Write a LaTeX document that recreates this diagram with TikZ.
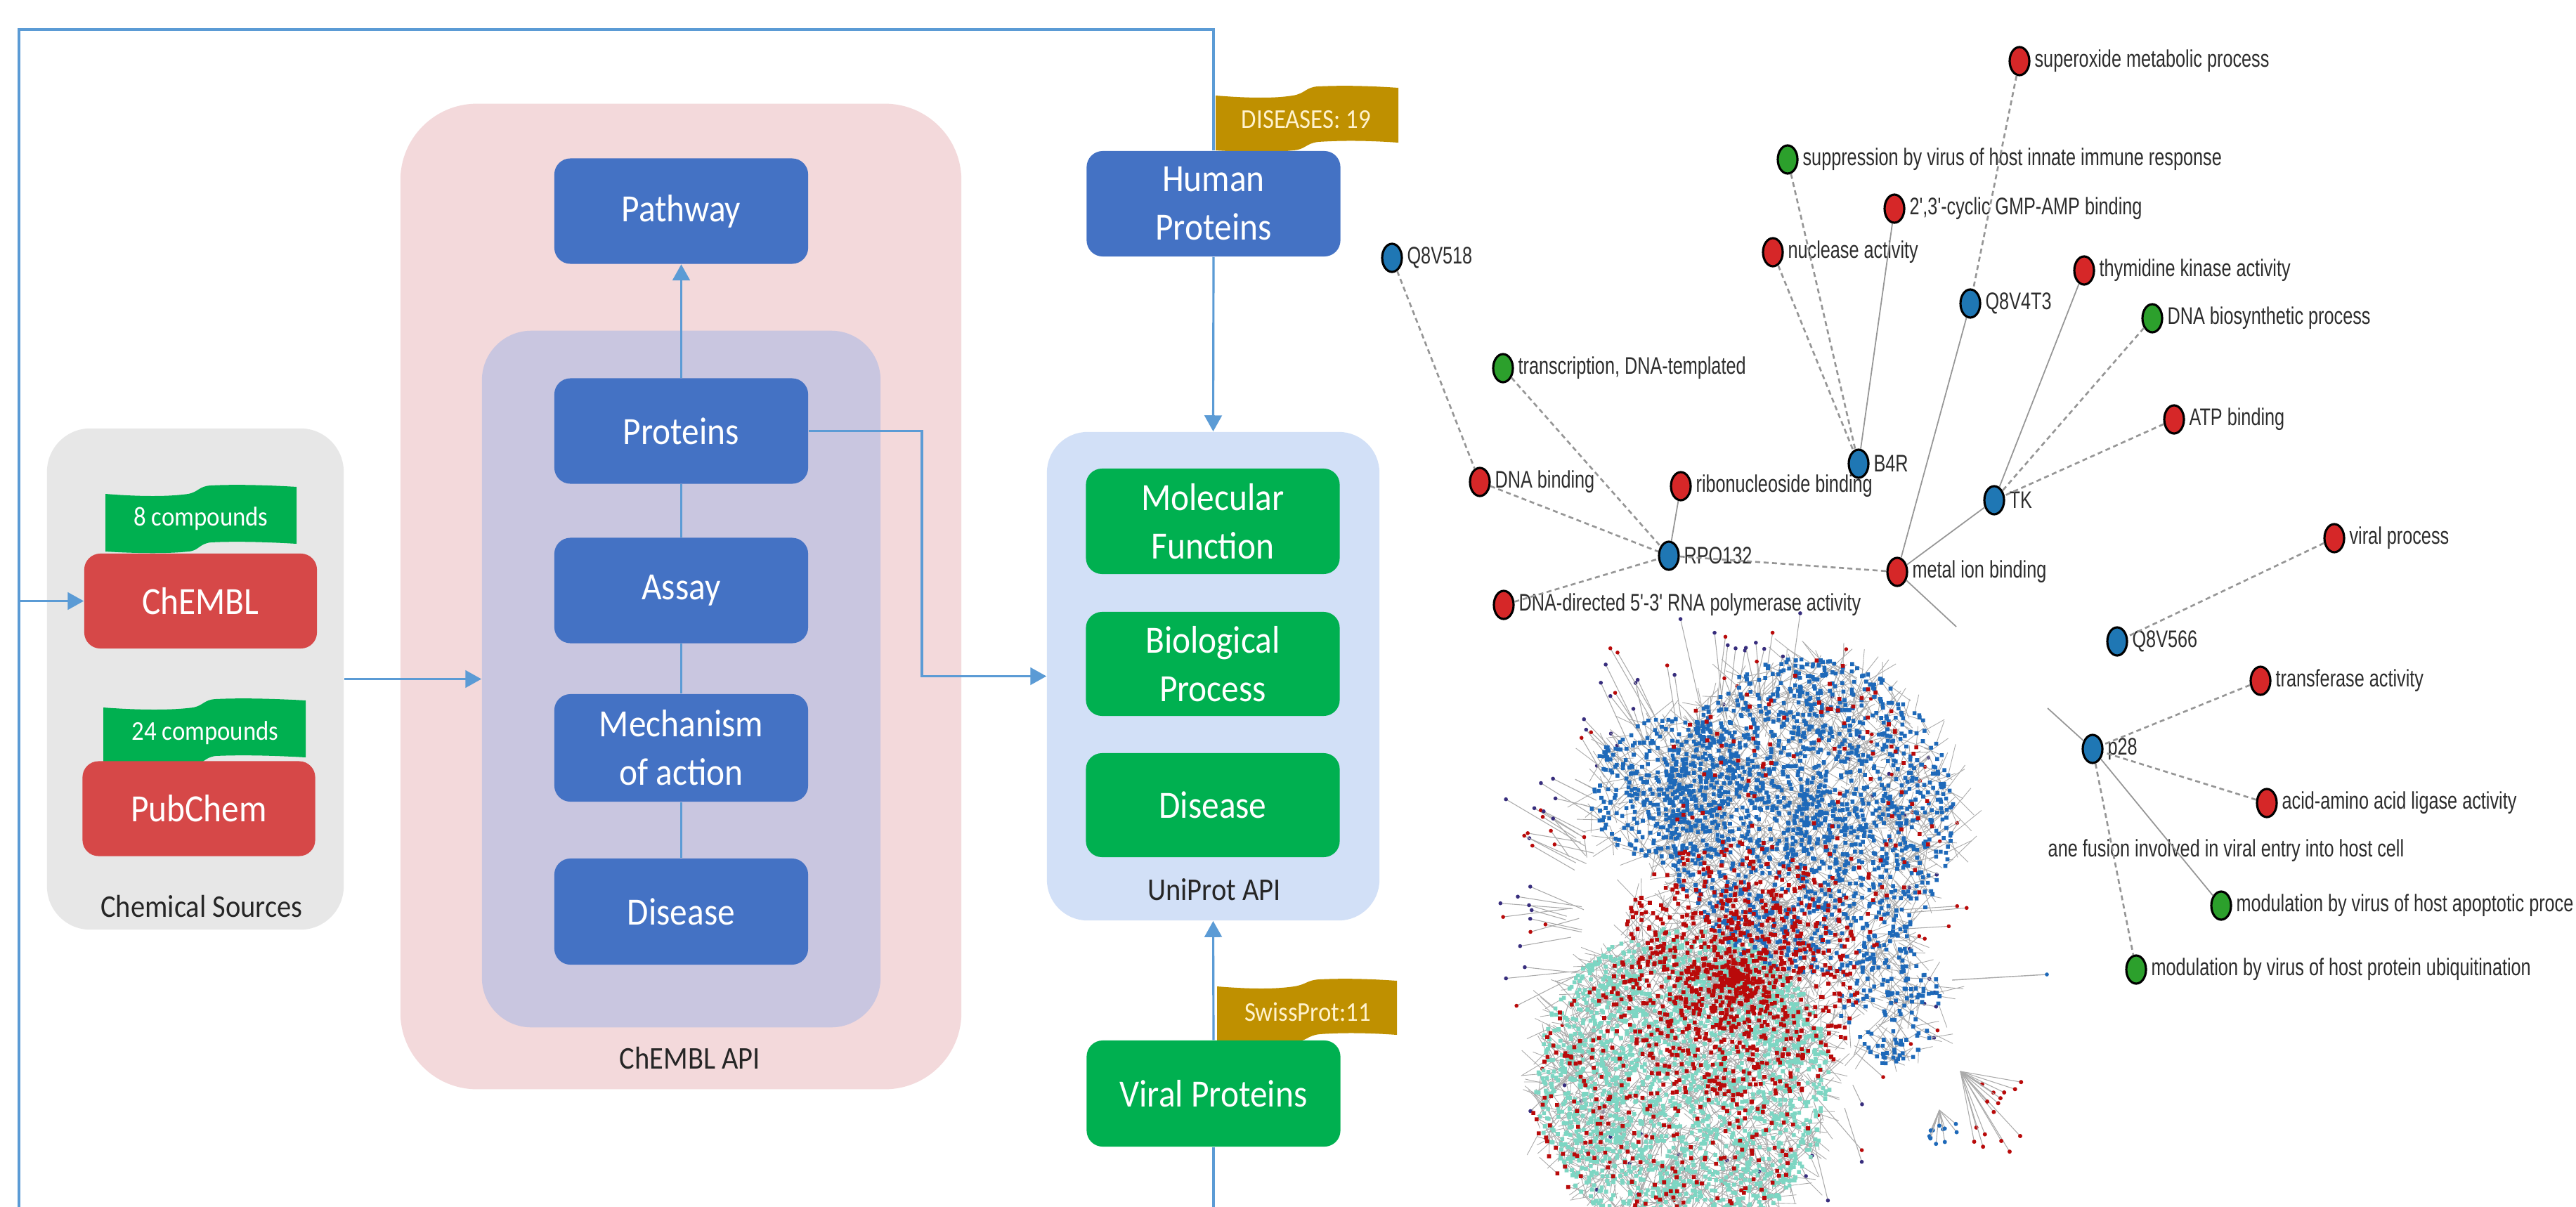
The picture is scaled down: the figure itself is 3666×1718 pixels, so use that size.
\documentclass[tikz,border=0pt]{standalone}
\usepackage{fontspec}
\setmainfont{Carlito}
\newfontfamily\cfont[FakeStretch=0.9]{Carlito}
\newfontfamily\gfont[FakeStretch=0.74]{Liberation Sans}
\usetikzlibrary{arrows.meta,shapes.geometric}
\definecolor{conn}{RGB}{91,155,213}
\definecolor{bbox}{RGB}{68,114,196}
\definecolor{gbox}{RGB}{0,176,80}
\definecolor{rbox}{RGB}{214,72,72}
\definecolor{gold}{RGB}{191,144,0}
\definecolor{goldtxt}{RGB}{255,242,204}
\definecolor{greybg}{RGB}{231,231,231}
\definecolor{pinkbg}{RGB}{243,217,219}
\definecolor{purpbg}{RGB}{201,198,224}
\definecolor{unibg}{RGB}{210,224,247}
\definecolor{gblue}{RGB}{31,119,180}
\definecolor{gred}{RGB}{214,39,40}
\definecolor{ggreen}{RGB}{44,160,44}
\definecolor{gedge}{RGB}{150,150,150}
\definecolor{gtext}{RGB}{45,45,45}
\definecolor{hteal}{RGB}{125,214,195}
\definecolor{hred}{RGB}{185,10,10}
\definecolor{hblue}{RGB}{30,105,185}
\definecolor{hnavy}{RGB}{55,45,125}
\definecolor{hedgec}{RGB}{170,170,170}

\def\hbpow{0.5}
% one random point of a cluster: cx, cy, rx, ry, edge length
\newcommand\hbcomp[5]{%
  \pgfmathsetmacro\hbr{rnd^\hbpow}%
  \pgfmathsetmacro\hba{360*rnd}%
  \pgfmathsetmacro\hbx{#1+#3*\hbr*cos(\hba)}%
  \pgfmathsetmacro\hby{#2+#4*\hbr*sin(\hba)}%
  \pgfmathsetmacro\hbu{\hbx+#5*rand}%
  \pgfmathsetmacro\hbv{\hby+#5*rand}%
  \global\let\hbx\hbx\global\let\hby\hby\global\let\hbu\hbu\global\let\hbv\hbv}
% mode (0 edges / 1 dots), chunks of 150 points, cx, cy, rx, ry, colour, edge length, seed
\newcommand\hbcluster[9]{%
  \pgfmathsetseed{#9}%
  \foreach \hbk in {1,...,#2}{%
    \ifnum#1=0
      \draw[hbedge] \foreach \hbi in {1,...,150}{\pgfextra{\hbcomp{#3}{#4}{#5}{#6}{#8}} (\hbx,\hby) -- (\hbu,\hbv)};%
    \else
      \fill[#7] \foreach \hbi in {1,...,150}{\pgfextra{\hbcomp{#3}{#4}{#5}{#6}{#8}} (\hbx-2.8,\hby-2.8) rectangle (\hbx+2.8,\hby+2.8)};%
    \fi
  }%
}
% all clusters, in one mode
\newcommand\hballclusters[1]{%
  \def\hbpow{0.5}%
  \hbcluster{#1}{14}{2395}{1540}{210}{220}{hteal}{35}{101}%
  \def\hbpow{0.6}%
  \hbcluster{#1}{10}{2575}{1160}{205}{225}{hblue}{45}{102}%
  \hbcluster{#1}{3}{2385}{1125}{125}{105}{hblue}{40}{103}%
  \hbcluster{#1}{1}{2690}{1420}{75}{95}{hblue}{40}{104}%
  \def\hbpow{0.9}%
  \hbcluster{#1}{6}{2470}{1390}{175}{195}{hred}{40}{105}%
  \def\hbpow{0.5}%
  \hbcluster{#1}{2}{2380}{1560}{205}{195}{hred}{35}{106}%
  \hbcluster{#1}{1}{2560}{1160}{200}{225}{hred}{35}{107}%
}

\begin{document}
\begin{tikzpicture}[x=0.01cm,y=-0.01cm,
  cline/.style={draw=conn, line width=0.9pt},
  carrow/.style={cline, -{Triangle[length=6.5pt,width=7pt]}},
  grp/.style={inner sep=0pt, draw=none},
  boxtxt/.style={font=\cfont\fontsize{15.6}{19.6}\selectfont, text=white, align=center,
     inner sep=0pt, rounded corners=6.5pt, minimum width=3.61cm, minimum height=1.5cm},
  bluebox/.style={boxtxt, fill=bbox},
  greenbox/.style={boxtxt, fill=gbox},
  redbox/.style={boxtxt, fill=rbox, minimum width=3.31cm, minimum height=1.35cm},
  caption/.style={font=\cfont\fontsize{12.8}{15}\selectfont, text=black!85, inner sep=0pt},
  flagtxt/.style={font=\cfont\fontsize{11}{13}\selectfont, text=white, inner sep=0pt},
  goldflagtxt/.style={font=\cfont\fontsize{11}{13}\selectfont, text=goldtxt, inner sep=0pt},
  gnode/.style={ellipse, draw=black, line width=0.9pt, minimum width=0.28cm, minimum height=0.4cm, inner sep=0pt},
  glabel/.style={font=\gfont\fontsize{9.7}{11}\selectfont, text=gtext, inner sep=0pt},
  gdash/.style={draw=gedge, line width=0.75pt, dash pattern=on 2pt off 1.4pt},
  gsolid/.style={draw=gedge, line width=0.5pt},
  hbedge/.style={draw=hedgec, line width=0.25pt}]
\useasboundingbox (0,0) rectangle (3666,1718);
\fill[white] (0,0) rectangle (3666,1718);

% ---------- group backgrounds ----------
\node[grp, fill=greybg, rounded corners=17.5pt, minimum width=4.22cm, minimum height=7.13cm] (chemsrc) at (278,966.5) {};
\node[grp, fill=pinkbg, rounded corners=31pt, minimum width=7.98cm, minimum height=14.02cm] (chemblapi) at (969,849) {};
\node[grp, fill=purpbg, rounded corners=20pt, minimum width=5.67cm, minimum height=9.91cm] (inner) at (969.5,966.5) {};
\node[grp, fill=unibg, rounded corners=16.5pt, minimum width=4.73cm, minimum height=6.95cm] (uniprot) at (1726.5,962.5) {};

% ---------- flags ----------
\fill[gbox] (150,703) .. controls (200,707) and (240,707) .. (268,703) .. controls (283,700) and (283,692) .. (300,691) .. controls (340,689) and (390,691) .. (422,693)
   -- (422,774) .. controls (390,772) and (340,770) .. (300,772) .. controls (283,774) and (283,784) .. (268,785) .. controls (240,788) and (200,788) .. (150,785) -- cycle;
\node[flagtxt] (f8) at (286,738) {8 compounds};
\fill[gbox] (147,1007) .. controls (200,1011) and (245,1011) .. (275,1007) .. controls (290,1004) and (290,996) .. (307,995) .. controls (350,993) and (400,995) .. (435,997)
   -- (435,1078) .. controls (400,1076) and (350,1074) .. (307,1076) .. controls (290,1078) and (290,1088) .. (275,1089) .. controls (245,1092) and (200,1092) .. (147,1089) -- cycle;
\node[flagtxt] (f24) at (292,1043) {24 compounds};
\fill[gold] (1730,136) .. controls (1780,140) and (1815,140) .. (1840,136) .. controls (1858,133) and (1858,124) .. (1876,123) .. controls (1920,121) and (1960,123) .. (1990,125)
   -- (1990,203) .. controls (1960,201) and (1920,199) .. (1876,202) .. controls (1858,204) and (1858,213) .. (1840,214) .. controls (1815,217) and (1780,217) .. (1730,214) -- cycle;
\node[goldflagtxt] (fdis) at (1859,170) {DISEASES: 19};
\fill[gold] (1732,1404) .. controls (1780,1408) and (1815,1408) .. (1842,1404) .. controls (1860,1401) and (1860,1395) .. (1878,1394) .. controls (1920,1392) and (1960,1394) .. (1988,1396)
   -- (1988,1473) .. controls (1960,1471) and (1920,1469) .. (1878,1472) .. controls (1860,1474) and (1860,1482) .. (1842,1483) .. controls (1815,1486) and (1780,1486) .. (1732,1483) -- cycle;
\node[goldflagtxt] (fsw) at (1861,1440) {SwissProt:11};

% ---------- boxes ----------
\node[redbox] (chembl) at (285.5,855.5) {ChEMBL};
\node[redbox] (pubchem) at (283,1151) {PubChem};
\node[caption] (cslab) at (287,1290) {Chemical Sources};

\node[bluebox] (pathway) at (969.5,300.5) {Pathway};
\node[bluebox] (proteins) at (969.5,613.5) {Proteins};
\node[bluebox] (assay) at (969.5,840.5) {Assay};
\node[bluebox, minimum height=1.53cm] (mech) at (969.5,1064.5) {Mechanism\\of action};
\node[bluebox, minimum height=1.51cm] (cdis) at (969.5,1297.5) {Disease};
\node[caption] (calab) at (982,1506) {ChEMBL API};

\node[bluebox] (hp) at (1727,290) {Human\\Proteins};
\node[greenbox] (molf) at (1726,742) {Molecular\\Function};
\node[greenbox, minimum height=1.48cm] (biop) at (1726,945) {Biological\\Process};
\node[greenbox, minimum height=1.48cm] (udis) at (1726,1146) {Disease};
\node[caption] (ulab) at (1728,1266) {UniProt API};
\node[greenbox, minimum height=1.51cm] (vp) at (1727,1556.5) {Viral Proteins};

% ---------- connectors ----------
\coordinate (botR) at (1727,1730);
\coordinate (botL) at (27,1730);
\coordinate (topL) at (27,42);
\coordinate (topR) at (1727,42);
\coordinate (brL) at (27,855.5);
\coordinate (pbend) at (1312,800);
\begin{scope}
\clip (0,0) rectangle (3666,1718);
\draw[cline] (vp.south) -- (botR) -- (botL) -- (topL) -- (topR) -- (hp.north);
\end{scope}
\draw[carrow] (brL) -- (chembl.west);
\draw[carrow] (hp.south) -- (uniprot.north);
\draw[carrow] (vp.north) -- (uniprot.south);
\draw[carrow] (chemsrc.east) -- (inner.west);
\draw[carrow] (proteins.east) -| (pbend) |- (uniprot.west);
\draw[carrow] (proteins.north) -- (pathway.south);
\draw[cline] (proteins.south) -- (assay.north);
\draw[cline] (assay.south) -- (mech.north);
\draw[cline] (mech.south) -- (cdis.north);

% ---------- network graph ----------
\node[gnode, fill=gblue, label={[glabel, label distance=1.5pt]east:{Q8V518}}] (q518) at (1981,367) {};
\node[gnode, fill=gred, label={[glabel, label distance=1.5pt]east:{superoxide metabolic process}}] (sup) at (2874,87) {};
\node[gnode, fill=ggreen, label={[glabel, label distance=1.5pt]east:{suppression by virus of host innate immune response}}] (supp) at (2544,227) {};
\node[gnode, fill=gred, label={[glabel, label distance=1.5pt]east:{2',3'-cyclic GMP-AMP binding}}] (cgamp) at (2696,297) {};
\node[gnode, fill=gred, label={[glabel, label distance=1.5pt]east:{nuclease activity}}] (nuc) at (2523,359) {};
\node[gnode, fill=gblue, label={[glabel, label distance=1.5pt]east:{Q8V4T3}}] (q4t3) at (2804,432) {};
\node[gnode, fill=gred, label={[glabel, label distance=1.5pt]east:{thymidine kinase activity}}] (thy) at (2966,385) {};
\node[gnode, fill=ggreen, label={[glabel, label distance=1.5pt]east:{DNA biosynthetic process}}] (dnab) at (3063,453) {};
\node[gnode, fill=ggreen, label={[glabel, label distance=1.5pt]east:{transcription, DNA-templated}}] (trans) at (2139,524) {};
\node[gnode, fill=gred, label={[glabel, label distance=1.5pt]east:{ATP binding}}] (atp) at (3094,597) {};
\node[gnode, fill=gblue, label={[glabel, label distance=1.5pt]east:{B4R}}] (b4r) at (2645,660) {};
\node[gnode, fill=gred, label={[glabel, label distance=1.5pt]east:{DNA binding}}] (dnabind) at (2106,686) {};
\node[gnode, fill=gred, label={[glabel, label distance=1.5pt]east:{ribonucleoside binding}}] (ribo) at (2392,692) {};
\node[gnode, fill=gblue, label={[glabel, label distance=1.5pt]east:{TK}}] (tk) at (2838,712) {};
\node[gnode, fill=gred, label={[glabel, label distance=1.5pt]east:{viral process}}] (viral) at (3322,766) {};
\node[gnode, fill=gblue, label={[glabel, label distance=1.5pt]east:{RPO132}}] (rpo) at (2375,791) {};
\node[gnode, fill=gred, label={[glabel, label distance=1.5pt]east:{metal ion binding}}] (metal) at (2700,814) {};
\node[gnode, fill=gred, label={[glabel, label distance=1.5pt]east:{DNA-directed 5'-3' RNA polymerase activity}}] (dnadir) at (2140,861) {};
\node[gnode, fill=gblue, label={[glabel, label distance=1.5pt]east:{Q8V566}}] (q566) at (3013,913) {};
\node[gnode, fill=gred, label={[glabel, label distance=1.5pt]east:{transferase activity}}] (transf) at (3217,969) {};
\node[gnode, fill=gblue, label={[glabel, label distance=1.5pt]east:{p28}}] (p28) at (2978,1066) {};
\node[gnode, fill=gred, label={[glabel, label distance=1.5pt]east:{acid-amino acid ligase activity}}] (acid) at (3226,1143) {};
\node[gnode, fill=ggreen, label={[glabel, label distance=1.5pt]east:{modulation by virus of host apoptotic proce}}] (apop) at (3161,1289) {};
\node[gnode, fill=ggreen, label={[glabel, label distance=1.5pt]east:{modulation by virus of host protein ubiquitination}}] (ubiq) at (3040,1380) {};
\node[glabel, anchor=west] (fusion) at (2914,1211) {ane fusion involved in viral entry into host cell};
\coordinate (mcut) at (2784,892);
\coordinate (pcut) at (2914,1008);

\draw[gdash] (q518) -- (dnabind);
\draw[gdash] (trans) -- (rpo);
\draw[gdash] (dnabind) -- (rpo);
\draw[gsolid] (ribo) -- (rpo);
\draw[gdash] (dnadir) -- (rpo);
\draw[gdash] (rpo) -- (metal);
\draw[gdash] (supp) -- (b4r);
\draw[gdash] (nuc) -- (b4r);
\draw[gsolid] (cgamp) -- (b4r);
\draw[gdash] (sup) -- (q4t3);
\draw[gsolid] (q4t3) -- (metal);
\draw[gsolid] (thy) -- (tk);
\draw[gdash] (dnab) -- (tk);
\draw[gdash] (atp) -- (tk);
\draw[gsolid] (tk) -- (metal);
\draw[gsolid] (metal) -- (mcut);
\draw[gdash] (viral) -- (q566);
\draw[gdash] (transf) -- (p28);
\draw[gdash] (acid) -- (p28);
\draw[gsolid] (p28) -- (apop);
\draw[gdash] (p28) -- (ubiq);
\draw[gsolid] (p28) -- (pcut);

% ---------- hairball ----------
\pgfmathsetseed{11}
\foreach \hbi in {1,...,150}{%
  \pgfmathsetmacro\hba{360*rnd}%
  \pgfmathsetmacro\hbb{0.72+0.12*rnd}%
  \pgfmathsetmacro\hbe{\hbb+0.08+0.25*rnd}%
  \pgfmathsetmacro\hbx{2470+300*\hbb*cos(\hba)}%
  \pgfmathsetmacro\hby{1320+400*\hbb*sin(\hba)}%
  \pgfmathsetmacro\hbu{2470+300*\hbe*cos(\hba)+25*rand}%
  \pgfmathsetmacro\hbv{1320+400*\hbe*sin(\hba)+25*rand}%
  \pgfmathsetmacro\hbc{rnd}%
  \draw[hbedge, line width=0.3pt] (\hbx,\hby) -- (\hbu,\hbv);%
  \ifdim\hbc pt<0.55pt \fill[hnavy] (\hbu,\hbv) circle[radius=0.8pt];
  \else \fill[hred] (\hbu,\hbv) circle[radius=0.8pt]; \fi
}
\coordinate (hbr1) at (2778,1395);
\coordinate (hbr2) at (2913,1387);
\draw[hbedge, line width=0.4pt] (hbr1) -- (hbr2);
\fill[hblue] (hbr2) circle[radius=0.8pt];
\coordinate (hbf) at (2790,1525);
\foreach \hbi in {1,...,16}{%
  \pgfmathsetmacro\hbu{2805+75*rnd}%
  \pgfmathsetmacro\hbv{1540+100*rnd}%
  \draw[hbedge, line width=0.3pt] (hbf) -- (\hbu,\hbv);%
  \fill[hred] (\hbu,\hbv) circle[radius=0.85pt];
}
\coordinate (hbg) at (2760,1580);
\foreach \hbi in {1,...,12}{%
  \pgfmathsetmacro\hbu{2745+40*rnd}%
  \pgfmathsetmacro\hbv{1595+35*rnd}%
  \draw[hbedge, line width=0.3pt] (hbg) -- (\hbu,\hbv);%
  \fill[hblue] (\hbu,\hbv) circle[radius=0.85pt];
}
\hballclusters{0}
\hballclusters{1}
\end{tikzpicture}
\end{document}
